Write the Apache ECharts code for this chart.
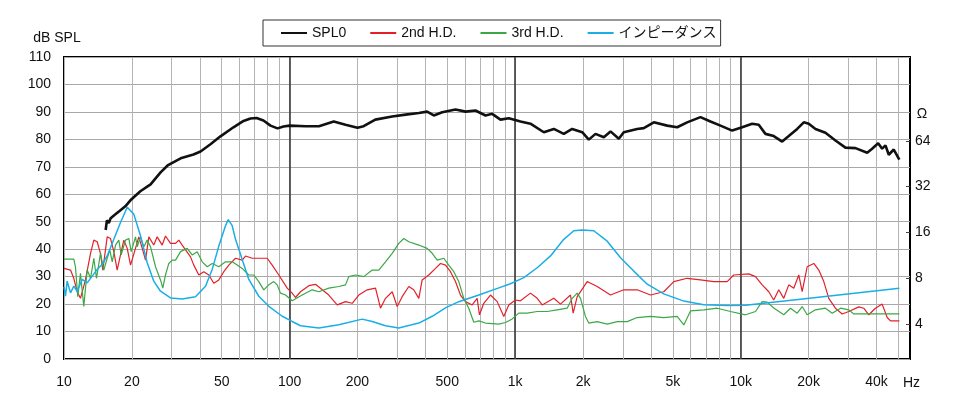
<!DOCTYPE html>
<html><head><meta charset="utf-8">
<script src="https://cdn.jsdelivr.net/npm/echarts@6/dist/echarts.min.js"></script>
<style>html,body{margin:0;padding:0;background:#fff}#c{width:980px;height:414px}</style>
</head><body><div id="c"></div>
<script>
const seriesNames = ['SPL0', '2nd H.D.', '3rd H.D.', 'インピーダンス'];
const xLabelValues = [10, 20, 50, 100, 200, 500, 1000, 2000, 5000, 10000, 20000, 40000];
const xGridValues = [10,20,30,40,50,60,70,80,90,100,200,300,400,500,600,700,800,900,1000,2000,3000,4000,5000,6000,7000,8000,9000,10000,20000,30000,40000,50000];
const xDecades = [100, 1000, 10000];
const ohmTicks = [4, 8, 16, 32, 64];

const splData = [[15.3,47],[15.5,50.5],[15.8,49.5],[16.1,51.3],[16.9,52.7],[17.8,54.2],[18.7,55.6],[19.7,57.8],[21.8,61.1],[24.2,63.6],[26.8,68],[28.8,70.5],[32.9,73.1],[37.5,74.5],[40.3,75.6],[44.6,78.2],[49.4,81.1],[56.4,84.4],[62.5,86.7],[67.1,87.6],[71.4,87.8],[76.6,86.9],[82.3,85],[88.4,84],[94,84.7],[100,85],[118,84.8],[135,84.8],[157,86.5],[177,85.3],[200,84.2],[213,84.8],[240,87.2],[285,88.3],[327,89],[374,89.6],[407,90.1],[436,88.7],[475,89.9],[544,90.9],[603,90.1],[667,90.5],[739,88.7],[791,89.3],[861,87.2],[937,87.7],[1056,86.5],[1169,85.7],[1340,82.6],[1484,83.8],[1643,82],[1790,83.8],[1983,82.6],[2121,79.9],[2271,82],[2472,80.8],[2647,82.9],[2881,80.2],[3031,82.6],[3475,83.8],[3718,84.1],[4118,86.2],[4721,85],[5227,84.4],[5788,86.2],[6630,88.1],[7343,86.5],[8135,85],[9165,83.2],[10150,84.4],[11240,85.7],[12020,85.3],[12870,82],[14010,81.2],[15270,79.2],[16330,81.2],[17800,83.8],[19040,86.2],[20030,85.7],[21450,83.8],[23750,82.4],[26300,79.6],[29130,77],[32280,76.8],[36360,75.1],[38250,76.6],[40680,78.6],[42370,76.6],[43830,77.8],[45330,74.4],[47700,76.3],[50500,72.6]];

const hd2Data = [[10,33],[10.69,32.4],[11.05,29.4],[11.44,24.5],[11.83,22.1],[12.04,21.5],[12.45,28.8],[13.11,38.5],[13.56,43.3],[14.03,42.7],[14.51,38.5],[14.86,32.4],[15.54,44.5],[16.07,43.9],[16.63,39.1],[17.21,32.4],[17.8,37.9],[18.42,43.3],[19.07,40.3],[19.72,34.2],[20.54,39.1],[21.46,44.5],[22.23,40.3],[22.98,36],[23.77,44.5],[25,41.5],[25.89,44.5],[27.25,41.5],[28.18,44.8],[29.66,42.1],[31.22,42.1],[32.29,43.3],[33.42,41.5],[36.38,37.2],[37.62,34.2],[39.59,30.6],[41.67,31.8],[43.85,30.6],[46.14,27.6],[48.57,28.8],[51.1,31.8],[53.78,34.2],[57.6,36.7],[61.66,36],[63.77,37.5],[68.3,36.7],[74.3,36.7],[79.6,36.7],[83.75,34.2],[89.6,30.6],[97.6,25.8],[102.7,24],[106.2,22.4],[111.8,24.5],[121.7,26.7],[130.3,27.2],[139.6,25.2],[149.2,23.3],[162.6,19.7],[177,20.9],[189.5,20.3],[202.7,23.3],[220.9,25.2],[240.4,25.8],[253,18.5],[266.2,22.1],[285.1,24.5],[300,19.1],[315.7,22.7],[337.7,26.4],[355.3,25.2],[374.1,22.1],[387.1,28.8],[414.1,30.6],[443.6,33],[466.7,34.8],[491.1,34.2],[516.9,31.8],[543.8,28.2],[572.3,23.3],[602.5,20.9],[645,19.7],[678.6,22.1],[694.8,16.1],[726,20.3],[777.5,23.3],[832.6,20.9],[890.5,15.5],[937.2,19.7],[1003,21.5],[1056,21.2],[1169,24],[1253,22.1],[1318,19.7],[1484,22.1],[1589,20],[1759,23.3],[1808,16.7],[1884,22.7],[2086,28.2],[2310,26.4],[2647,23.3],[3031,25.2],[3475,25.2],[3981,23.3],[4560,24.5],[5051,28.2],[5788,29.4],[6630,28.8],[7597,28.2],[8712,28.2],[9316,30.6],[10860,31],[11630,30],[12450,27],[13320,24.5],[14010,21.5],[14750,25.2],[15520,22.1],[16330,27],[17190,25.8],[18090,30.6],[18730,24.5],[19710,33.6],[21090,34.8],[22190,32.4],[23350,28.2],[24570,22.1],[26300,18.5],[28180,16.4],[30140,17.3],[33380,19],[35120,18.5],[36960,16.1],[39570,18.5],[42370,20],[44610,15.1],[46120,13.9],[50500,13.9]];

const hd3Data = [[10,36.4],[11.05,36.4],[11.24,33.6],[11.51,22.7],[11.83,31.2],[12.24,19.1],[12.67,32.4],[13.11,29.4],[13.56,36.7],[13.93,29.4],[14.51,38.5],[15.01,32.4],[15.54,36.7],[15.96,39.7],[16.36,35.4],[16.92,41.5],[17.5,43.3],[17.93,37.9],[18.74,43.3],[19.38,43.9],[19.86,39.1],[20.75,44.5],[21.11,40.9],[21.83,44.5],[22.59,40.9],[23.38,43.3],[24.18,40.9],[25.45,33.6],[26.78,28.8],[27.42,25.8],[28.18,30.6],[29.15,34.8],[30.19,36],[31.22,36],[32.86,39.1],[35.17,40.3],[37,37.9],[38.95,39.1],[41,35.4],[43.15,33.6],[45.39,34.8],[48.57,33.6],[52,35.4],[55.68,35.4],[58.6,34.2],[61.66,33],[65.96,30.6],[69.4,30.6],[73.05,28.2],[76.86,25.2],[80.9,27],[85.15,28.2],[88.1,27],[91.17,24],[95.93,23.3],[102.7,21.2],[113.7,23.3],[126,25.2],[134.8,24.5],[149.2,25.8],[165.3,26.4],[177,27],[183,30],[196,30.6],[213.3,30],[232.4,32.4],[248.6,32.4],[266.2,35.4],[285.1,38.5],[305,42.1],[320.9,43.9],[337.7,42.7],[374.1,41.5],[407.4,40.3],[428.9,38.5],[451.3,36],[482.8,36.7],[507.8,34.2],[534.6,31.8],[562.6,28.2],[592,22.1],[622.9,18.5],[655.7,13.4],[690.3,13.9],[738.8,13.1],[846.4,12.7],[906.2,13.3],[970.3,14.6],[1038,16.7],[1131,16.7],[1253,17.3],[1387,17.3],[1536,17.9],[1701,18.5],[1790,22.1],[1884,24],[1949,22.1],[2050,15.5],[2121,13.1],[2310,13.6],[2559,12.7],[2835,13.6],[3139,13.6],[3475,15.1],[3981,15.5],[4560,15.1],[5227,15.5],[5594,12.4],[5990,17.5],[6862,17.9],[7866,18.5],[9016,17.3],[10500,16.1],[11630,17.3],[12450,20.9],[13100,20.7],[14070,18.5],[15520,16.1],[16630,18.5],[17800,16.7],[18730,19.1],[19710,16.1],[21450,17.9],[23750,18.5],[25440,16.7],[27730,18.5],[30140,17.9],[31720,16.4],[50500,16.4]];

const impData = [[10,7.0],[10.15,6.08],[10.33,7.64],[10.69,6.4],[11.05,7.08],[11.44,6.56],[12.04,7.84],[12.67,7.45],[13.34,8.25],[14.03,9.13],[14.77,9.86],[15.54,11.19],[16.63,14.4],[17.8,18.6],[19.07,23.4],[19.32,23.9],[20.39,21.1],[21.83,15.2],[23.38,10.1],[25,7.64],[26.78,6.56],[29.66,5.93],[33.42,5.84],[38.27,6.03],[42.41,7.08],[45.39,9.13],[48.57,13],[52,17.7],[53.46,19.4],[55.68,17.7],[57.6,14.4],[61.66,10.6],[65.96,7.84],[73.05,6.08],[80.9,5.22],[92.8,4.49],[102.7,4.15],[111.8,3.89],[134.8,3.76],[165.3,3.95],[209.8,4.3],[232.4,4.15],[266.2,3.89],[305,3.76],[374.1,4.05],[428.9,4.49],[491.1,5.1],[562.6,5.6],[690.3,6.2],[846.4,6.9],[953.6,7.35],[1093,8.07],[1253,9.36],[1435,11.2],[1643,14.4],[1820,16.4],[1983,16.6],[2233,16.4],[2559,14],[2932,10.9],[3357,8.9],[3850,7.3],[4560,6.3],[5594,5.65],[6862,5.34],[8712,5.28],[10500,5.3],[18410,5.82],[50500,6.87]];

const FONT = "'Liberation Sans', Arial, 'Noto Sans CJK JP', sans-serif";
const fmtHz = v => v >= 1000 ? (v / 1000) + 'k' : String(v);

const chart = echarts.init(document.getElementById('c'), null, {renderer: 'canvas'});
chart.setOption({
  animation: false,
  backgroundColor: '#fff',
  textStyle: {fontFamily: FONT},
  grid: {left: 64, right: 70, top: 57, bottom: 55, show: true, borderColor: '#000', borderWidth: 2, backgroundColor: 'transparent'},
  legend: {
    data: seriesNames, left: 263, top: 20, padding: [6, 4, 6, 17], itemGap: 23, itemWidth: 26, itemHeight: 14,
    borderColor: '#333', borderWidth: 1, backgroundColor: '#fff',
    itemStyle: {opacity: 0},
    textStyle: {fontSize: 14, color: '#111', fontFamily: FONT}
  },
  xAxis: {
    type: 'log', logBase: 10, min: 10, max: 56300,
    axisLine: {show: false},
    axisTick: {show: false, customValues: xGridValues},
    axisLabel: {customValues: xLabelValues, formatter: fmtHz, fontSize: 14, color: '#111', margin: 16, fontFamily: FONT},
    splitLine: {show: true, lineStyle: {color: '#b4b4b4', width: 1}},
    minorSplitLine: {show: false},
    name: 'Hz', nameLocation: 'end', nameGap: -7,
    nameTextStyle: {fontSize: 14, color: '#111', verticalAlign: 'top', lineHeight: 48, fontFamily: FONT}
  },
  yAxis: [{
    type: 'value', min: 0, max: 110, interval: 10, position: 'left',
    axisLine: {show: false}, axisTick: {show: false},
    axisLabel: {fontSize: 14, color: '#111', margin: 13, fontFamily: FONT},
    splitLine: {show: true, lineStyle: {color: '#a8a8a8', width: 1}},
    name: 'dB SPL', nameLocation: 'end', nameGap: 12,
    nameTextStyle: {fontSize: 14, color: '#111', align: 'center', padding: [0, 14, 0, 0], fontFamily: FONT}
  }, {
    type: 'log', logBase: 2, min: 2.35, max: 228, position: 'right',
    axisLine: {show: false},
    axisTick: {show: true, inside: true, length: 4, customValues: ohmTicks, lineStyle: {color: '#444'}},
    axisLabel: {customValues: ohmTicks, fontSize: 14, color: '#111', margin: 5, fontFamily: FONT},
    splitLine: {show: false},
    name: 'Ω', nameLocation: 'end', nameGap: -64,
    nameTextStyle: {fontSize: 14, color: '#111', align: 'center', padding: [0, 0, 0, 24], fontFamily: FONT}
  }],
  series: [{
    name: seriesNames[0], type: 'line', data: splData, symbol: 'none', z: 5,
    lineStyle: {color: '#111', width: 2.6}, itemStyle: {color: '#111'},
    markLine: {
      silent: true, symbol: 'none', label: {show: false}, z: 1,
      lineStyle: {color: '#3a3a3a', width: 1.6, type: 'solid'},
      data: xDecades.map(v => ({xAxis: v}))
    }
  }, {
    name: seriesNames[1], type: 'line', data: hd2Data, symbol: 'none', z: 3,
    lineStyle: {color: '#e3202a', width: 1.2}, itemStyle: {color: '#e3202a'}
  }, {
    name: seriesNames[2], type: 'line', data: hd3Data, symbol: 'none', z: 3,
    lineStyle: {color: '#3aa845', width: 1.2}, itemStyle: {color: '#3aa845'}
  }, {
    name: seriesNames[3], type: 'line', data: impData, yAxisIndex: 1, symbol: 'none', z: 4,
    lineStyle: {color: '#1aaee6', width: 1.5}, itemStyle: {color: '#1aaee6'}
  }]
});
</script>
</body></html>
